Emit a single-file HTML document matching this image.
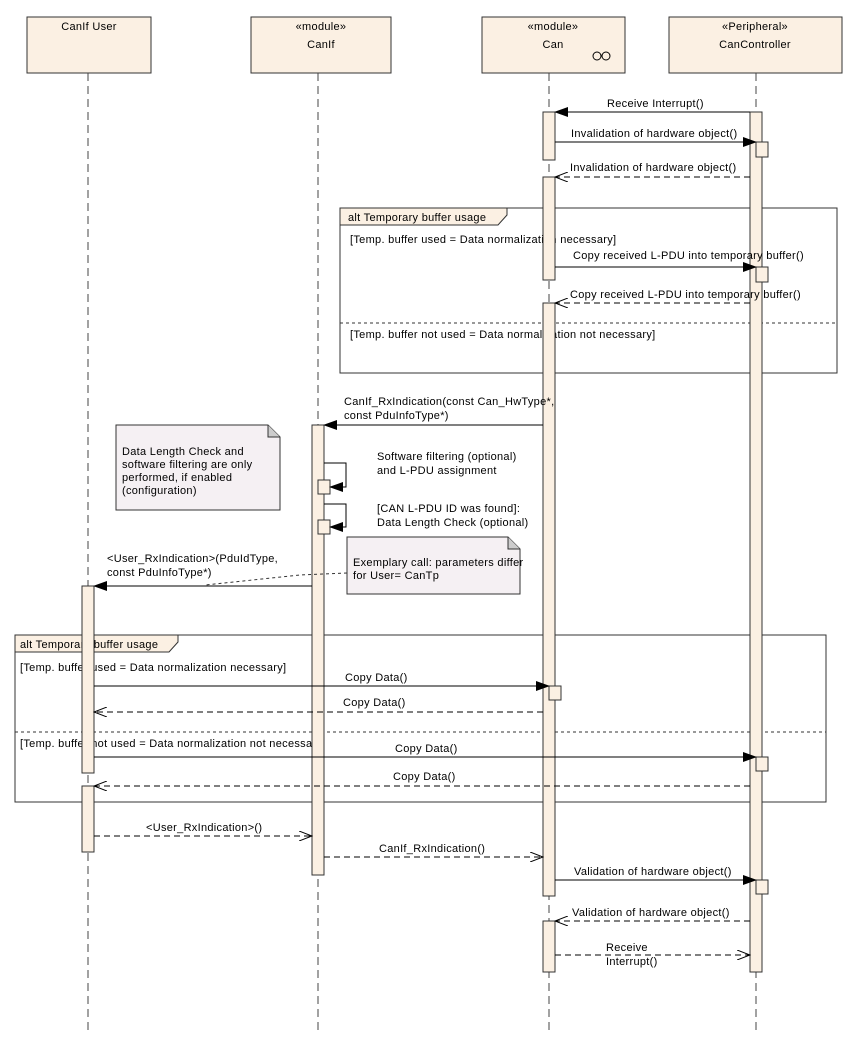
<!DOCTYPE html>
<html><head><meta charset="utf-8"><style>
body{margin:0;background:#fff}
svg{display:block;font-family:"Liberation Sans",sans-serif;font-size:11px;letter-spacing:0.3px}
</style></head><body>
<svg width="859" height="1037" viewBox="0 0 859 1037" xmlns="http://www.w3.org/2000/svg">
<defs>
<marker id="f" markerWidth="14" markerHeight="10" refX="13" refY="5" orient="auto" markerUnits="userSpaceOnUse"><path d="M0,0 L14,5 L0,10 z" fill="#000"/></marker>
<marker id="o" markerWidth="14" markerHeight="10" refX="13" refY="5" orient="auto" markerUnits="userSpaceOnUse"><path d="M0,0 L13,5 L0,10" fill="none" stroke="#000"/></marker>
</defs>
<g fill="#fbf0e3" stroke="#333">
<rect x="27" y="17" width="124" height="56"/>
<rect x="251" y="17" width="140" height="56"/>
<rect x="482" y="17" width="143" height="56"/>
<rect x="669" y="17" width="173" height="56"/>
</g>
<g text-anchor="middle" fill="#000">
<text x="89" y="30">CanIf User</text>
<text x="321" y="30">«module»</text><text x="321" y="48">CanIf</text>
<text x="553" y="30">«module»</text><text x="553" y="48">Can</text>
<text x="755" y="30">«Peripheral»</text><text x="755" y="48">CanController</text>
</g>
<circle cx="597" cy="56" r="4" fill="none" stroke="#000"/><circle cx="606" cy="56" r="4" fill="none" stroke="#000"/><line x1="601" y1="56" x2="602" y2="56" stroke="#000"/>
<g stroke="#444" stroke-dasharray="8,5">
<line x1="88" y1="73" x2="88" y2="1030"/>
<line x1="318" y1="73" x2="318" y2="1030"/>
<line x1="549" y1="73" x2="549" y2="1030"/>
<line x1="756" y1="73" x2="756" y2="1030"/>
</g>
<g fill="none" stroke="#333">
<rect x="340" y="208" width="497" height="165"/>
<rect x="15" y="635" width="811" height="167"/>
</g>
<path d="M340,208 H507 V215 L498,225 H340 z" fill="#fbf0e3" stroke="#333"/>
<path d="M15,635 H178 V642 L169,652 H15 z" fill="#fbf0e3" stroke="#333"/>
<line x1="340" y1="323" x2="837" y2="323" stroke="#333" stroke-dasharray="3,3"/>
<line x1="15" y1="732" x2="826" y2="732" stroke="#333" stroke-dasharray="3,3"/>
<text x="348" y="221">alt Temporary buffer usage</text>
<text x="350" y="243">[Temp. buffer used = Data normalization necessary]</text>
<text x="350" y="338">[Temp. buffer not used = Data normalization not necessary]</text>
<text x="20" y="648">alt Temporary buffer usage</text>
<text x="20" y="671">[Temp. buffer used = Data normalization necessary]</text>
<text x="20" y="747">[Temp. buffer not used = Data normalization not necessary]</text>
<g fill="#fbf0e3" stroke="#333">
<rect x="750" y="112" width="12" height="860"/>
<rect x="543" y="112" width="12" height="48"/>
<rect x="543" y="177" width="12" height="103"/>
<rect x="543" y="303" width="12" height="593"/>
<rect x="312" y="425" width="12" height="450"/>
<rect x="82" y="586" width="12" height="187"/>
<rect x="82" y="786" width="12" height="66"/>
<rect x="543" y="921" width="12" height="51"/>
<rect x="756" y="142" width="12" height="15"/>
<rect x="756" y="267" width="12" height="15"/>
<rect x="318" y="480" width="12" height="14"/>
<rect x="318" y="520" width="12" height="14"/>
<rect x="549" y="686" width="12" height="14"/>
<rect x="756" y="757" width="12" height="14"/>
<rect x="756" y="880" width="12" height="14"/>
</g>
<path d="M116,425 H268 L280,437 V510 H116 z" fill="#f5f0f3" stroke="#333"/>
<path d="M268,425 V437 H280" fill="#ccc" stroke="#333"/>
<text x="122" y="455">Data Length Check and</text>
<text x="122" y="468">software filtering are only</text>
<text x="122" y="481">performed, if enabled</text>
<text x="122" y="494">(configuration)</text>
<path d="M347,537 H508 L520,549 V594 H347 z" fill="#f5f0f3" stroke="#333"/>
<path d="M508,537 V549 H520" fill="#ccc" stroke="#333"/>
<text x="353" y="566">Exemplary call: parameters differ</text>
<text x="353" y="579">for User= CanTp</text>
<path d="M347,573 L300,575 L205,585" fill="none" stroke="#333" stroke-dasharray="3,3"/>
<g stroke="#000" fill="none">
<line x1="750" y1="112" x2="555" y2="112" marker-end="url(#f)"/>
<line x1="555" y1="142" x2="756" y2="142" marker-end="url(#f)"/>
<line x1="750" y1="177" x2="555" y2="177" stroke-dasharray="6,4" marker-end="url(#o)"/>
<line x1="555" y1="267" x2="756" y2="267" marker-end="url(#f)"/>
<line x1="750" y1="303" x2="555" y2="303" stroke-dasharray="6,4" marker-end="url(#o)"/>
<line x1="543" y1="425" x2="324" y2="425" marker-end="url(#f)"/>
<path d="M324,463 H346 V487 H330" marker-end="url(#f)"/>
<path d="M324,504 H346 V527 H330" marker-end="url(#f)"/>
<line x1="312" y1="586" x2="94" y2="586" marker-end="url(#f)"/>
<line x1="94" y1="686" x2="549" y2="686" marker-end="url(#f)"/>
<line x1="543" y1="712" x2="94" y2="712" stroke-dasharray="6,4" marker-end="url(#o)"/>
<line x1="94" y1="757" x2="756" y2="757" marker-end="url(#f)"/>
<line x1="750" y1="786" x2="94" y2="786" stroke-dasharray="6,4" marker-end="url(#o)"/>
<line x1="94" y1="836" x2="312" y2="836" stroke-dasharray="6,4" marker-end="url(#o)"/>
<line x1="324" y1="857" x2="543" y2="857" stroke-dasharray="6,4" marker-end="url(#o)"/>
<line x1="555" y1="880" x2="756" y2="880" marker-end="url(#f)"/>
<line x1="750" y1="921" x2="555" y2="921" stroke-dasharray="6,4" marker-end="url(#o)"/>
<line x1="555" y1="955" x2="750" y2="955" stroke-dasharray="6,4" marker-end="url(#o)"/>
</g>
<text x="607" y="107">Receive Interrupt()</text>
<text x="571" y="137">Invalidation of hardware object()</text>
<text x="570" y="171">Invalidation of hardware object()</text>
<text x="573" y="259">Copy received L-PDU into temporary buffer()</text>
<text x="570" y="298">Copy received L-PDU into temporary buffer()</text>
<text x="344" y="405">CanIf_RxIndication(const Can_HwType*,</text>
<text x="344" y="419">const PduInfoType*)</text>
<text x="377" y="460">Software filtering (optional)</text>
<text x="377" y="474">and L-PDU assignment</text>
<text x="377" y="512">[CAN L-PDU ID was found]:</text>
<text x="377" y="526">Data Length Check (optional)</text>
<text x="107" y="562">&lt;User_RxIndication&gt;(PduIdType,</text>
<text x="107" y="576">const PduInfoType*)</text>
<text x="345" y="681">Copy Data()</text>
<text x="343" y="706">Copy Data()</text>
<text x="395" y="752">Copy Data()</text>
<text x="393" y="780">Copy Data()</text>
<text x="146" y="831">&lt;User_RxIndication&gt;()</text>
<text x="379" y="852">CanIf_RxIndication()</text>
<text x="574" y="875">Validation of hardware object()</text>
<text x="572" y="916">Validation of hardware object()</text>
<text x="606" y="951">Receive</text>
<text x="606" y="965">Interrupt()</text>
</svg>
</body></html>
